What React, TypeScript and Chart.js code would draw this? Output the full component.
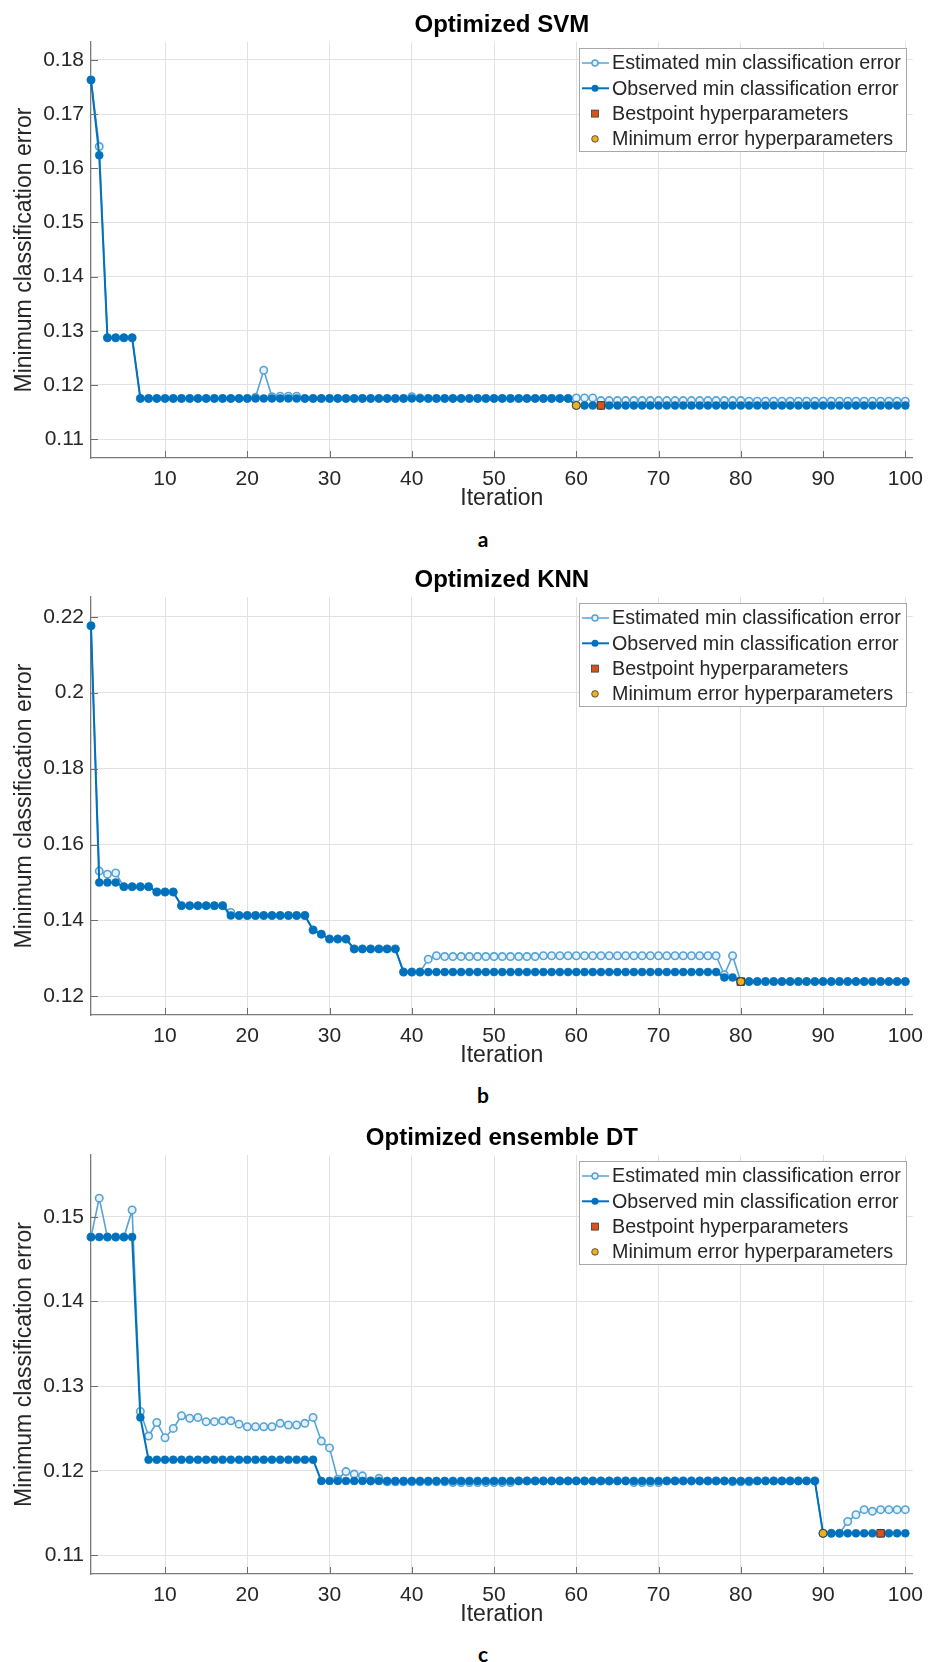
import { useEffect, useRef } from 'react';
import { Chart, registerables } from 'chart.js';

Chart.register(...registerables);

// ---------- data ----------
const iterations = Array.from({ length: 100 }, (_, i) => i + 1);
const xTicks = [10, 20, 30, 40, 50, 60, 70, 80, 90, 100];

const svmObserved = [
  0.1763, 0.1624, 0.1287, 0.1287, 0.1287, 0.1287, 0.1175, 0.1175, 0.1175, 0.1175,
  0.1175, 0.1175, 0.1175, 0.1175, 0.1175, 0.1175, 0.1175, 0.1175, 0.1175, 0.1175,
  0.1175, 0.1175, 0.1175, 0.1175, 0.1175, 0.1175, 0.1175, 0.1175, 0.1175, 0.1175,
  0.1175, 0.1175, 0.1175, 0.1175, 0.1175, 0.1175, 0.1175, 0.1175, 0.1175, 0.1175,
  0.1175, 0.1175, 0.1175, 0.1175, 0.1175, 0.1175, 0.1175, 0.1175, 0.1175, 0.1175,
  0.1175, 0.1175, 0.1175, 0.1175, 0.1175, 0.1175, 0.1175, 0.1175, 0.1175, 0.1162,
  0.1162, 0.1162, 0.1162, 0.1162, 0.1162, 0.1162, 0.1162, 0.1162, 0.1162, 0.1162,
  0.1162, 0.1162, 0.1162, 0.1162, 0.1162, 0.1162, 0.1162, 0.1162, 0.1162, 0.1162,
  0.1162, 0.1162, 0.1162, 0.1162, 0.1162, 0.1162, 0.1162, 0.1162, 0.1162, 0.1162,
  0.1162, 0.1162, 0.1162, 0.1162, 0.1162, 0.1162, 0.1162, 0.1162, 0.1162, 0.1162,
];
const svmEstimated = [
  0.1763, 0.1640, 0.1287, 0.1287, 0.1287, 0.1287, 0.1175, 0.1175, 0.1175, 0.1175,
  0.1175, 0.1175, 0.1175, 0.1175, 0.1175, 0.1175, 0.1175, 0.1175, 0.1175, 0.1175,
  0.1177, 0.1227, 0.1178, 0.1179, 0.1179, 0.1179, 0.1175, 0.1175, 0.1175, 0.1175,
  0.1175, 0.1175, 0.1175, 0.1175, 0.1175, 0.1175, 0.1175, 0.1175, 0.1175, 0.1178,
  0.1176, 0.1175, 0.1175, 0.1175, 0.1175, 0.1175, 0.1175, 0.1175, 0.1175, 0.1175,
  0.1175, 0.1175, 0.1175, 0.1175, 0.1175, 0.1175, 0.1175, 0.1175, 0.1175, 0.1176,
  0.1176, 0.1176, 0.1171, 0.1171, 0.1171, 0.1171, 0.1171, 0.1171, 0.1171, 0.1171,
  0.1171, 0.1171, 0.1171, 0.1171, 0.1171, 0.1171, 0.1171, 0.1171, 0.1171, 0.1171,
  0.1170, 0.1170, 0.1170, 0.1170, 0.1170, 0.1170, 0.1170, 0.1170, 0.1170, 0.1170,
  0.1170, 0.1170, 0.1170, 0.1170, 0.1170, 0.1170, 0.1170, 0.1170, 0.1170, 0.1170,
];
const svmBestPoint = [63, 0.1162];
const svmMinErrorPoint = [60, 0.1162];
const svmYTicks = [0.11, 0.12, 0.13, 0.14, 0.15, 0.16, 0.17, 0.18];
const svmYRange = [0.1065, 0.1833];

const knnObserved = [
  0.2176, 0.1500, 0.1500, 0.1500, 0.1489, 0.1489, 0.1489, 0.1489, 0.1475, 0.1475,
  0.1475, 0.1439, 0.1439, 0.1439, 0.1439, 0.1439, 0.1439, 0.1413, 0.1413, 0.1413,
  0.1413, 0.1413, 0.1413, 0.1413, 0.1413, 0.1413, 0.1413, 0.1375, 0.1364, 0.1351,
  0.1351, 0.1351, 0.1325, 0.1325, 0.1325, 0.1325, 0.1325, 0.1325, 0.1264, 0.1264,
  0.1264, 0.1264, 0.1264, 0.1264, 0.1264, 0.1264, 0.1264, 0.1264, 0.1264, 0.1264,
  0.1264, 0.1264, 0.1264, 0.1264, 0.1264, 0.1264, 0.1264, 0.1264, 0.1264, 0.1264,
  0.1264, 0.1264, 0.1264, 0.1264, 0.1264, 0.1264, 0.1264, 0.1264, 0.1264, 0.1264,
  0.1264, 0.1264, 0.1264, 0.1264, 0.1264, 0.1264, 0.1264, 0.1250, 0.1250, 0.1239,
  0.1239, 0.1239, 0.1239, 0.1239, 0.1239, 0.1239, 0.1239, 0.1239, 0.1239, 0.1239,
  0.1239, 0.1239, 0.1239, 0.1239, 0.1239, 0.1239, 0.1239, 0.1239, 0.1239, 0.1239,
];
const knnEstimated = [
  0.2176, 0.1530, 0.1522, 0.1525, 0.1489, 0.1489, 0.1489, 0.1489, 0.1475, 0.1475,
  0.1475, 0.1439, 0.1439, 0.1439, 0.1439, 0.1439, 0.1439, 0.1421, 0.1413, 0.1413,
  0.1413, 0.1413, 0.1413, 0.1413, 0.1413, 0.1413, 0.1413, 0.1375, 0.1364, 0.1351,
  0.1351, 0.1351, 0.1325, 0.1325, 0.1325, 0.1325, 0.1325, 0.1325, 0.1264, 0.1264,
  0.1264, 0.1298, 0.1307, 0.1305, 0.1305, 0.1305, 0.1305, 0.1305, 0.1305, 0.1305,
  0.1305, 0.1305, 0.1305, 0.1305, 0.1305, 0.1307, 0.1307, 0.1307, 0.1307, 0.1307,
  0.1307, 0.1307, 0.1307, 0.1307, 0.1307, 0.1307, 0.1307, 0.1307, 0.1307, 0.1307,
  0.1307, 0.1307, 0.1307, 0.1307, 0.1307, 0.1307, 0.1307, 0.1257, 0.1307, 0.1239,
  0.1239, 0.1239, 0.1239, 0.1239, 0.1239, 0.1239, 0.1239, 0.1239, 0.1239, 0.1239,
  0.1239, 0.1239, 0.1239, 0.1239, 0.1239, 0.1239, 0.1239, 0.1239, 0.1239, 0.1239,
];
const knnBestPoint = [80, 0.1239];
const knnMinErrorPoint = [80, 0.1239];
const knnYTicks = [0.12, 0.14, 0.16, 0.18, 0.2, 0.22];
const knnYRange = [0.1151, 0.2252];

const dtObserved = [
  0.1476, 0.1476, 0.1476, 0.1476, 0.1476, 0.1476, 0.1263, 0.1213, 0.1213, 0.1213,
  0.1213, 0.1213, 0.1213, 0.1213, 0.1213, 0.1213, 0.1213, 0.1213, 0.1213, 0.1213,
  0.1213, 0.1213, 0.1213, 0.1213, 0.1213, 0.1213, 0.1213, 0.1213, 0.1188, 0.1188,
  0.1188, 0.1188, 0.1188, 0.1188, 0.1188, 0.1188, 0.1188, 0.1188, 0.1188, 0.1188,
  0.1188, 0.1188, 0.1188, 0.1188, 0.1188, 0.1188, 0.1188, 0.1188, 0.1188, 0.1188,
  0.1188, 0.1188, 0.1188, 0.1188, 0.1188, 0.1188, 0.1188, 0.1188, 0.1188, 0.1188,
  0.1188, 0.1188, 0.1188, 0.1188, 0.1188, 0.1188, 0.1188, 0.1188, 0.1188, 0.1188,
  0.1188, 0.1188, 0.1188, 0.1188, 0.1188, 0.1188, 0.1188, 0.1188, 0.1188, 0.1188,
  0.1188, 0.1188, 0.1188, 0.1188, 0.1188, 0.1188, 0.1188, 0.1188, 0.1188, 0.1126,
  0.1126, 0.1126, 0.1126, 0.1126, 0.1126, 0.1126, 0.1126, 0.1126, 0.1126, 0.1126,
];
const dtEstimated = [
  0.1476, 0.1522, 0.1476, 0.1476, 0.1476, 0.1508, 0.1270, 0.1241, 0.1257, 0.1239,
  0.1250, 0.1265, 0.1262, 0.1263, 0.1258, 0.1258, 0.1259, 0.1259, 0.1255, 0.1252,
  0.1252, 0.1252, 0.1252, 0.1256, 0.1254, 0.1254, 0.1256, 0.1263, 0.1235, 0.1227,
  0.1190, 0.1199, 0.1196, 0.1194, 0.1188, 0.1191, 0.1187, 0.1187, 0.1187, 0.1187,
  0.1187, 0.1187, 0.1187, 0.1187, 0.1186, 0.1186, 0.1186, 0.1186, 0.1186, 0.1186,
  0.1186, 0.1186, 0.1188, 0.1188, 0.1188, 0.1188, 0.1188, 0.1188, 0.1188, 0.1188,
  0.1188, 0.1188, 0.1188, 0.1188, 0.1188, 0.1188, 0.1186, 0.1186, 0.1186, 0.1186,
  0.1188, 0.1188, 0.1188, 0.1188, 0.1188, 0.1188, 0.1188, 0.1188, 0.1187, 0.1187,
  0.1187, 0.1188, 0.1188, 0.1188, 0.1188, 0.1188, 0.1188, 0.1188, 0.1188, 0.1126,
  0.1126, 0.1126, 0.1140, 0.1148, 0.1154, 0.1152, 0.1154, 0.1154, 0.1154, 0.1154,
];
const dtBestPoint = [97, 0.1126];
const dtMinErrorPoint = [90, 0.1126];
const dtYTicks = [0.11, 0.12, 0.13, 0.14, 0.15];
const dtYRange = [0.1078, 0.1573];

const legendLabels = [
  'Estimated min classification error',
  'Observed min classification error',
  'Bestpoint hyperparameters',
  'Minimum error hyperparameters',
];

// ---------- styles ----------
const OBS = '#0072BD';
const EST = '#56A3D6';
const EST_FILL = '#e6f1fa';
const BEST = '#D95319';
const MINC = '#EDB120';
const EDGE = '#3a3a3a';
const TEXT = '#262626';
const FONT = "'Liberation Sans', Arial, sans-serif";
const W = 932;
const PLOT_RIGHT_PAD = 19;
const LEFT_W = 91;
const BOTTOM_H = 62;

type Spec = {
  title: string;
  letter: string;
  canvasTop: number;
  axTop: number;
  axBottom: number;
  letterY: number;
  observed: number[];
  estimated: number[];
  best: number[];
  minErr: number[];
  yTicks: number[];
  yRange: number[];
};

const panels: Spec[] = [
  { title: 'Optimized SVM', letter: 'a', canvasTop: 0, axTop: 42, axBottom: 458, letterY: 539,
    observed: svmObserved, estimated: svmEstimated, best: svmBestPoint, minErr: svmMinErrorPoint,
    yTicks: svmYTicks, yRange: svmYRange },
  { title: 'Optimized KNN', letter: 'b', canvasTop: 555, axTop: 597, axBottom: 1015, letterY: 1095,
    observed: knnObserved, estimated: knnEstimated, best: knnBestPoint, minErr: knnMinErrorPoint,
    yTicks: knnYTicks, yRange: knnYRange },
  { title: 'Optimized ensemble DT', letter: 'c', canvasTop: 1110, axTop: 1155, axBottom: 1574, letterY: 1654,
    observed: dtObserved, estimated: dtEstimated, best: dtBestPoint, minErr: dtMinErrorPoint,
    yTicks: dtYTicks, yRange: dtYRange },
];

function makeConfig(spec: Spec): any {
  const titlePlugin = {
    id: 'matlabTitle',
    afterDraw(chart: any) {
      const { ctx, chartArea } = chart;
      ctx.save();
      ctx.font = `bold 24px ${FONT}`;
      ctx.fillStyle = '#000';
      ctx.textAlign = 'center';
      ctx.textBaseline = 'middle';
      ctx.fillText(spec.title, (chartArea.left + chartArea.right) / 2, chartArea.top - 17);
      ctx.restore();
    },
  };

  const innerTicksPlugin = {
    id: 'innerTicks',
    afterDraw(chart: any) {
      const { ctx, chartArea, scales } = chart;
      ctx.save();
      ctx.strokeStyle = '#6e6e6e';
      ctx.lineWidth = 1;
      ctx.beginPath();
      scales.x.ticks.forEach((t: any) => {
        const px = Math.round(scales.x.getPixelForValue(t.value)) + 0.5;
        ctx.moveTo(px, chartArea.bottom);
        ctx.lineTo(px, chartArea.bottom - 7);
      });
      scales.y.ticks.forEach((t: any) => {
        const py = Math.round(scales.y.getPixelForValue(t.value)) + 0.5;
        ctx.moveTo(chartArea.left, py);
        ctx.lineTo(chartArea.left + 7, py);
      });
      ctx.stroke();
      ctx.restore();
    },
  };

  const legendPlugin = {
    id: 'matlabLegend',
    afterDraw(chart: any) {
      const { ctx, chartArea } = chart;
      const w = 327;
      const h = 103;
      const x0 = Math.round(chartArea.right - 7 - w);
      const y0 = Math.round(chartArea.top + 6);
      ctx.save();
      ctx.fillStyle = '#ffffff';
      ctx.fillRect(x0, y0, w, h);
      ctx.strokeStyle = '#a8a8a8';
      ctx.lineWidth = 1;
      ctx.strokeRect(x0 + 0.5, y0 + 0.5, w, h);
      legendLabels.forEach((label, i) => {
        const cy = y0 + 15 + i * 25.3;
        const mx = x0 + 16;
        if (i === 0) {
          ctx.strokeStyle = EST;
          ctx.lineWidth = 1.5;
          ctx.beginPath();
          ctx.moveTo(x0 + 3, cy);
          ctx.lineTo(x0 + 30, cy);
          ctx.stroke();
          ctx.beginPath();
          ctx.arc(mx, cy, 3, 0, Math.PI * 2);
          ctx.fillStyle = EST_FILL;
          ctx.fill();
          ctx.stroke();
        } else if (i === 1) {
          ctx.strokeStyle = OBS;
          ctx.lineWidth = 2;
          ctx.beginPath();
          ctx.moveTo(x0 + 3, cy);
          ctx.lineTo(x0 + 30, cy);
          ctx.stroke();
          ctx.beginPath();
          ctx.arc(mx, cy, 3.5, 0, Math.PI * 2);
          ctx.fillStyle = OBS;
          ctx.fill();
        } else if (i === 2) {
          ctx.fillStyle = BEST;
          ctx.fillRect(mx - 3.5, cy - 3.5, 7, 7);
          ctx.strokeStyle = EDGE;
          ctx.lineWidth = 0.8;
          ctx.strokeRect(mx - 3.5, cy - 3.5, 7, 7);
        } else {
          ctx.beginPath();
          ctx.arc(mx, cy, 3.3, 0, Math.PI * 2);
          ctx.fillStyle = MINC;
          ctx.fill();
          ctx.strokeStyle = EDGE;
          ctx.lineWidth = 0.8;
          ctx.stroke();
        }
        ctx.font = `19.7px ${FONT}`;
        ctx.fillStyle = TEXT;
        ctx.textAlign = 'left';
        ctx.textBaseline = 'middle';
        ctx.fillText(label, x0 + 33, cy + 1);
      });
      ctx.restore();
    },
  };

  return {
    type: 'line',
    data: {
      datasets: [
        {
          label: legendLabels[0],
          data: iterations.map((x, i) => ({ x, y: spec.estimated[i] })),
          borderColor: EST,
          borderWidth: 1.6,
          pointRadius: 3.7,
          pointBorderWidth: 1.6,
          pointBackgroundColor: EST_FILL,
          pointBorderColor: EST,
          tension: 0,
          clip: false,
          order: 3,
        },
        {
          label: legendLabels[1],
          data: iterations.map((x, i) => ({ x, y: spec.observed[i] })),
          borderColor: OBS,
          borderWidth: 2,
          pointRadius: 4,
          pointBorderWidth: 0.5,
          pointBackgroundColor: OBS,
          pointBorderColor: OBS,
          tension: 0,
          clip: false,
          order: 2,
        },
        {
          label: legendLabels[2],
          data: [{ x: spec.best[0], y: spec.best[1] }],
          showLine: false,
          pointStyle: 'rect',
          pointRadius: 5.3,
          pointBorderWidth: 1,
          pointBackgroundColor: BEST,
          pointBorderColor: EDGE,
          clip: false,
          order: 1,
        },
        {
          label: legendLabels[3],
          data: [{ x: spec.minErr[0], y: spec.minErr[1] }],
          showLine: false,
          pointStyle: 'circle',
          pointRadius: 4,
          pointBorderWidth: 1,
          pointBackgroundColor: MINC,
          pointBorderColor: EDGE,
          clip: false,
          order: 0,
        },
      ],
    },
    options: {
      responsive: false,
      animation: false,
      events: [],
      layout: {
        padding: { top: spec.axTop - spec.canvasTop, right: PLOT_RIGHT_PAD, left: 0, bottom: 0 },
      },
      plugins: {
        legend: { display: false },
        tooltip: { enabled: false },
        title: { display: false },
      },
      scales: {
        x: {
          type: 'linear',
          min: 1,
          max: 100.9,
          afterBuildTicks: (scale: any) => {
            scale.ticks = xTicks.map((v) => ({ value: v }));
          },
          afterFit: (scale: any) => {
            scale.height = BOTTOM_H;
          },
          grid: { color: '#e2e2e2', lineWidth: 1, drawTicks: false },
          border: { display: true, color: '#7a7a7a', width: 1.3 },
          ticks: {
            padding: 9,
            color: TEXT,
            font: { family: FONT, size: 21 },
            maxRotation: 0,
            autoSkip: false,
            callback: (v: any) => String(v),
          },
          title: {
            display: true,
            text: 'Iteration',
            color: TEXT,
            font: { family: FONT, size: 23 },
            padding: { top: 0, bottom: 8 },
          },
        },
        y: {
          type: 'linear',
          min: spec.yRange[0],
          max: spec.yRange[1],
          afterBuildTicks: (scale: any) => {
            scale.ticks = spec.yTicks.map((v) => ({ value: v }));
          },
          afterFit: (scale: any) => {
            scale.width = LEFT_W;
          },
          grid: { color: '#e2e2e2', lineWidth: 1, drawTicks: false },
          border: { display: true, color: '#7a7a7a', width: 1.3 },
          ticks: {
            padding: 7,
            color: TEXT,
            font: { family: FONT, size: 21 },
            autoSkip: false,
            callback: (v: any) => String(Number(Number(v).toFixed(2))),
          },
          title: {
            display: true,
            text: 'Minimum classification error',
            color: TEXT,
            font: { family: FONT, size: 23 },
            padding: { top: 11, bottom: 0 },
          },
        },
      },
    },
    plugins: [innerTicksPlugin, legendPlugin, titlePlugin],
  };
}

function Panel({ spec }: { spec: Spec }) {
  const ref = useRef<HTMLCanvasElement | null>(null);
  const height = spec.axBottom + BOTTOM_H - spec.canvasTop;
  useEffect(() => {
    if (!ref.current) return;
    const chart = new Chart(ref.current, makeConfig(spec));
    return () => chart.destroy();
  }, [spec]);
  return (
    <>
      <canvas
        ref={ref}
        width={W}
        height={height}
        style={{ position: 'absolute', left: 0, top: spec.canvasTop, width: W, height, display: 'block' }}
      />
      <div
        style={{
          position: 'absolute',
          left: 463,
          width: 40,
          top: spec.letterY - 13,
          height: 26,
          lineHeight: '26px',
          textAlign: 'center',
          fontFamily: "Lato, 'Open Sans', sans-serif",
          fontWeight: 700,
          fontSize: 21,
          color: '#000',
        }}
      >
        {spec.letter}
      </div>
    </>
  );
}

export default function App() {
  useEffect(() => {
    document.body.style.margin = '0';
    document.body.style.background = '#ffffff';
  }, []);
  return (
    <div style={{ position: 'absolute', left: 0, top: 0, width: W, height: 1662, background: '#fff', overflow: 'hidden' }}>
      {panels.map((p) => (
        <Panel key={p.letter} spec={p} />
      ))}
    </div>
  );
}
